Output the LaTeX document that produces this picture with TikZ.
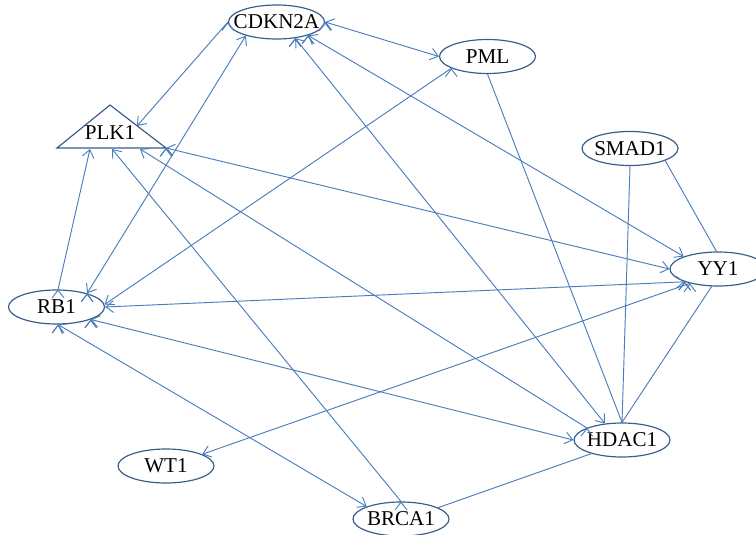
\documentclass[tikz,border=0pt]{standalone}
\usepackage{fontspec}
\setmainfont{Liberation Serif}
\usetikzlibrary{arrows.meta,shapes.geometric}
\definecolor{edgeblue}{HTML}{4A7EBB}
\definecolor{nodeblue}{HTML}{385D8A}
\tikzset{>={Straight Barb[length=6.5pt,width=10pt]},font=\fontsize{18}{20}\selectfont}
\tikzset{gene/.style={draw=nodeblue,line width=1pt,ellipse,minimum width=2.88cm,minimum height=1.02cm,inner xsep=-9pt,inner ysep=0pt},
  link/.style={draw=edgeblue,line width=0.8pt}}

\begin{document}
\begin{tikzpicture}[x=0.03cm,y=-0.03cm]
\useasboundingbox (0,0) rectangle (756,535);
\node[gene] (cdkn) at (276.5,22) {CDKN2A};
\node[gene] (pml) at (487.5,56.5) {PML};
\node[gene] (smad) at (630,148.5) {SMAD1};
\node[gene] (yy) at (718,269) {YY1};
\node[gene] (rb) at (56.5,307) {RB1};
\node[gene] (hdac) at (622,440) {HDAC1};
\node[gene] (wt) at (166,466) {WT1};
\node[gene] (brca) at (401,519) {BRCA1};

\coordinate (plkL) at (57,148);
\coordinate (plkT) at (110,105);
\coordinate (plkR) at (166,148);
\draw[draw=nodeblue,line width=1pt] (plkL) -- (plkT) -- (plkR) -- cycle;
\node (plk) at (110,133) {PLK1};
\coordinate (plka) at (137,126);
\coordinate (plkb1) at (90,149);
\coordinate (plkb2) at (112,149);
\coordinate (plkb3) at (140,149);

\path[->,link] (cdkn.west) edge (plka);
\path[<->,link] (rb.24) edge (cdkn.204);
\path[->,link] (rb.85) edge (plkb1);
\path[->,link] (brca.north) edge (plkb2);
\path[->,link] (hdac.161) edge (plkb3);
\path[<->,link] (plkR) edge (yy.west);
\path[->,link] (pml.198) edge (rb.3);
\path[<->,link] (yy.201) edge (rb.east);
\path[<->,link] (cdkn.east) edge (pml.west);
\path[<->,link] (cdkn.-41) edge (hdac.136);
\path[<->,link] (cdkn.-23) edge (yy.160);
\path[link] (pml.south) edge (hdac.north);
\path[link] (smad.south) edge (hdac.north);
\path[link] (smad.-19) edge (yy.95);
\path[link] (yy.-110) edge (hdac.north);
\path[->,link] (yy.207) edge (wt.18);
\path[<->,link] (rb.-20) edge (hdac.west);
\path[<->,link] (rb.-85) edge (brca.160);
\path[link] (hdac.204) edge (brca.17);

\end{tikzpicture}
\end{document}
